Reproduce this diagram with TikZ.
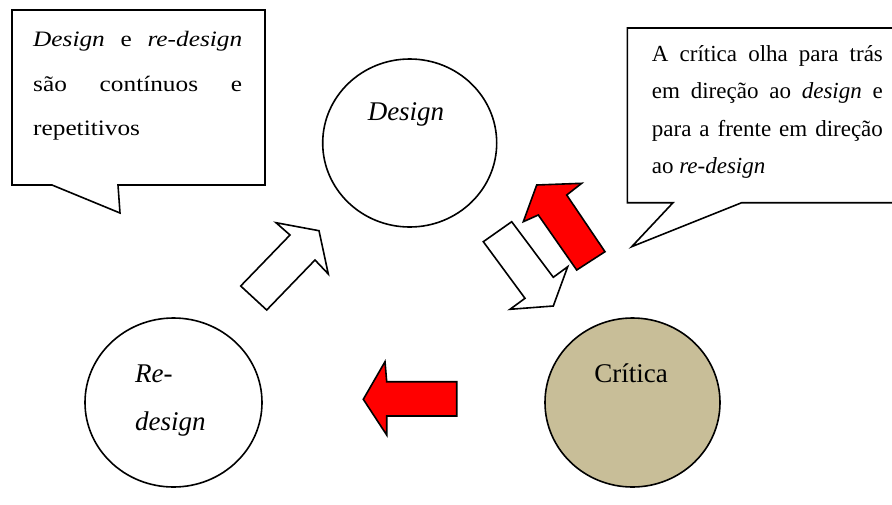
\documentclass[tikz,border=0pt]{standalone}
\usepackage{fontspec}
\setmainfont{Liberation Serif}
\newfontfamily\lbfont[FakeStretch=1.15]{Liberation Serif}
\usetikzlibrary{shapes.geometric}
\definecolor{tanfill}{RGB}{200,190,152}
\definecolor{arrred}{RGB}{255,0,0}
\begin{document}
\begin{tikzpicture}[x=1pt,y=-1pt,line join=miter,
  outline/.style={draw=black,line width=1.6pt},
  bubble/.style={outline,fill=white},
  ring/.style={ellipse,draw=black,line width=1.6pt,inner sep=0pt},
  whitearrow/.style={outline,fill=white},
  redarrow/.style={outline,fill=arrred},
  ltext/.style={anchor=base west,inner sep=0pt,font=\lbfont\fontsize{22}{26}\selectfont},
  rtext/.style={anchor=base west,inner sep=0pt,font=\fontsize{23}{27}\selectfont},
  ctext/.style={inner sep=0pt,font=\fontsize{27}{32}\selectfont}]
\useasboundingbox (0,0) rectangle (892,504);
\fill[white] (0,0) rectangle (892,504);
% callouts
\draw[bubble] (12,10) -- (265,10) -- (265,185) -- (118,185) -- (120,213) -- (52,185) -- (12,185) -- cycle;
\draw[bubble] (627.3,28) -- (905,28) -- (905,202.7) -- (741.7,202.7) -- (631.7,246.7) -- (673,202.7) -- (627.3,202.7) -- cycle;
\node[ltext] (l1) at (33,46) {\makebox[209pt][s]{\textit{Design} e \textit{re-design}}};
\node[ltext] (l2) at (33,91.7) {\makebox[209pt][s]{são contínuos e}};
\node[ltext] (l3) at (33,135) {repetitivos};
\node[rtext] (r1) at (651.7,61.7) {\makebox[231pt][s]{A crítica olha para trás}};
\node[rtext] (r2) at (651.7,98.5) {\makebox[231pt][s]{em direção ao \textit{design} e}};
\node[rtext] (r3) at (651.7,136.7) {\makebox[231pt][s]{para a frente em direção}};
\node[rtext] (r4) at (651.7,173) {ao \textit{re-design}};
% circles
\node[ring,fill=white,minimum width=174pt,minimum height=168pt] (design) at (409.7,143) {};
\node[ring,fill=white,minimum width=177pt,minimum height=169pt] (redesign) at (173.5,402.5) {};
\node[ring,fill=tanfill,minimum width=175pt,minimum height=169pt] (critica) at (632.5,402.5) {};
\node[ctext,anchor=base] (designlbl) at (406,120) {\itshape Design};
\node[ctext,anchor=base west] (relbl) at (135,382) {\itshape Re-};
\node[ctext,anchor=base west] (designlbl2) at (135,430) {\itshape design};
\node[ctext,anchor=base] (criticalbl) at (631,382) {Crítica};
% arrows
\draw[whitearrow] (240.7,286) -- (266.7,310) -- (315,260) -- (328.3,274) -- (319,230.7) -- (276,222.7) -- (290,235) -- cycle;
\draw[whitearrow] (483.3,241.7) -- (511.7,221.7) -- (553.3,277.3) -- (567.7,266.7) -- (553.3,306) -- (510,309.3) -- (525,298.3) -- cycle;
\draw[redarrow] (538.3,215) -- (523.3,221.7) -- (536.7,185) -- (581.7,183.3) -- (566.7,195) -- (605,251.7) -- (576.7,270) -- cycle;
\draw[redarrow] (363.3,399.3) -- (385,361.7) -- (386.7,381.7) -- (456.7,381.7) -- (456.7,416) -- (386.7,416) -- (386.7,435) -- cycle;
\end{tikzpicture}
\end{document}
